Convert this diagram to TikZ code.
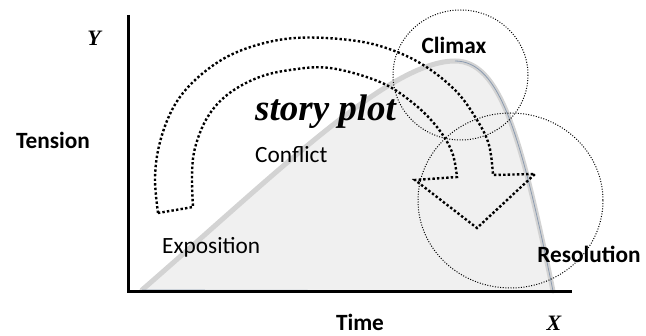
\documentclass[tikz,border=0pt]{standalone}
\usepackage{fontspec}
\setmainfont{Carlito}
\newfontfamily\titlefont{Liberation Serif}
\definecolor{curvefill}{HTML}{F0F0F0}
\definecolor{curveline}{HTML}{D3D3D3}
\definecolor{curveedge}{HTML}{8C9BB0}
\tikzset{
  lbl/.style={font=\fontsize{23.3}{28}\selectfont, inner sep=0pt, anchor=base west},
  blbl/.style={font=\fontsize{23.3}{28}\selectfont\bfseries, inner sep=0pt, anchor=base},
  axlbl/.style={font=\titlefont\fontsize{22}{26}\selectfont\bfseries\itshape, inner sep=0pt, anchor=base},
  axisline/.style={line width=3pt, black},
  ring/.style={line width=1pt, dash pattern=on 1pt off 1.6pt},
  bigdots/.style={line width=2.4pt, dash pattern=on 2.4pt off 2.2pt, line join=miter}
}
\begin{document}
\begin{tikzpicture}[x=1pt,y=-1pt]
\useasboundingbox (0,0) rectangle (646,336);
% tension curve
\coordinate (start) at (142,290);
\coordinate (peak) at (455,61);
\coordinate (bend) at (537,220);
\coordinate (end) at (553,291);
\fill[curvefill] (start) .. controls (280,170) and (390,61) .. (peak)
  .. controls (500,61) and (521,135) .. (end) -- cycle;
\draw[curveline, line width=5pt, line cap=round] (start) .. controls (280,170) and (390,61) .. (peak)
  .. controls (500,61) and (521,135) .. (end);
\draw[curveedge, line width=0.8pt] (peak) .. controls (500,61) and (521,135) .. (end) -- (start);
% axes
\coordinate (ytop) at (128,15);
\coordinate (origin) at (128,292);
\coordinate (xend) at (572,292);
\draw[axisline] (ytop) -- (origin) -- (xend);
% circles
\draw[ring] (460.5,75) ellipse [x radius=67.5, y radius=65];
\draw[ring] (510.5,200.5) ellipse [x radius=92.5, y radius=87.5];
% curved arrow
\draw[bigdots] plot[smooth, tension=0.6] coordinates {(158,213) (155,177) (160,142) (173,108) (193,82) (223,59) (257,45) (295,38) (340,39) (380,46) (420,63) (455,90) (477,120) (489,145) (493,175)}
  -- (535,174) -- (477,228) -- (415,180) -- (457,177)
  -- plot[smooth, tension=0.6] coordinates {(457,177) (452,152) (437,127) (413,103) (380,82) (330,68) (290,70) (257,78) (227,95) (207,118) (195,148) (192,175) (193,207)}
  -- cycle;
% labels
\node[axlbl] (ylab) at (94,46) {Y};
\node[axlbl] (xlab) at (554,331) {X};
\node[blbl] (tension) at (53,149) {Tension};
\node[blbl] (time) at (360,331) {Time};
\node[blbl] (climax) at (454,54) {Climax};
\node[blbl] (resolution) at (589,263) {Resolution};
\node[font=\titlefont\fontsize{37}{40}\selectfont\bfseries\itshape, inner sep=0pt, anchor=base west] (plot) at (255,121) {story plot};
\node[lbl] (conflict) at (255,162.5) {Conflict};
\node[lbl] (exposition) at (162,254) {Exposition};
\end{tikzpicture}
\end{document}
